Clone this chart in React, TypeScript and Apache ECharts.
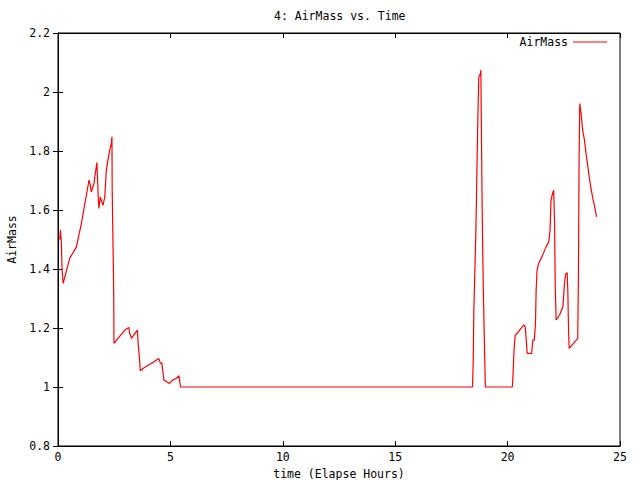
import React, { useEffect, useRef } from "react";
import * as echarts from "echarts";

const titleText = "4: AirMass vs. Time";
const xAxisName = "time (Elapse Hours)";
const yAxisName = "AirMass";
const seriesName = "AirMass";

const hours: number[] = [
  0.08, 0.11, 0.15, 0.18, 0.23, 0.52, 0.82, 1.04, 1.26, 1.38, 1.44, 1.48, 1.6, 1.66, 1.73, 1.75,
  1.79, 1.82, 1.88, 2.0, 2.08, 2.15, 2.22, 2.3, 2.37, 2.4, 2.41, 2.48, 2.49,
  2.97, 3.15, 3.19, 3.27, 3.53, 3.56, 3.63, 3.66, 3.86, 4.15, 4.48, 4.56, 4.62, 4.71, 4.96, 5.11,
  5.26, 5.38, 5.45,
  18.44, 18.47, 18.5, 18.55, 18.59, 18.63, 18.68, 18.72, 18.79, 18.81, 18.83, 18.87, 18.92, 18.98, 19.01,
  20.21, 20.24, 20.29, 20.34, 20.45, 20.71, 20.78, 20.82, 20.87, 21.07, 21.12, 21.19, 21.24, 21.27,
  21.31, 21.38, 21.56, 21.71, 21.83, 21.89, 21.93, 21.98, 22.02, 22.05, 22.09, 22.12, 22.16, 22.31,
  22.46, 22.53, 22.58, 22.65, 22.68, 22.71, 22.74, 23.12, 23.15, 23.18, 23.21, 23.27, 23.34,
  23.42, 23.49, 23.56, 23.64, 23.71, 23.78, 23.86, 23.96,
];

const airMass: number[] = [
  1.5, 1.532, 1.487, 1.398, 1.351, 1.436, 1.475, 1.554, 1.65, 1.701, 1.684, 1.661, 1.69, 1.724, 1.761, 1.724,
  1.644, 1.605, 1.644, 1.616, 1.644, 1.735, 1.769, 1.803, 1.825, 1.848, 1.673, 1.317, 1.148,
  1.193, 1.202, 1.182, 1.165, 1.193, 1.153, 1.091, 1.055, 1.067, 1.08, 1.097, 1.08, 1.081, 1.024, 1.012, 1.024,
  1.029, 1.038, 1.0,
  1.0, 1.091, 1.266, 1.413, 1.532, 1.707, 1.927, 2.051, 2.062, 2.074, 1.915, 1.594, 1.328, 1.108, 1.0,
  1.0, 1.04, 1.131, 1.176, 1.184, 1.21, 1.205, 1.17, 1.114, 1.114, 1.159, 1.159, 1.216, 1.328,
  1.396, 1.419, 1.447, 1.475, 1.492, 1.532, 1.633, 1.65, 1.661, 1.667, 1.554, 1.334, 1.227, 1.244,
  1.272, 1.351, 1.382, 1.388, 1.323, 1.193, 1.131, 1.165, 1.368, 1.763, 1.961, 1.927, 1.87,
  1.837, 1.791, 1.752, 1.707, 1.673, 1.644, 1.616, 1.577,
];

const xMin = 0, xMax = 25, xStep = 5;
const yMin = 0.8, yMax = 2.2, yStep = 0.2;

const FONT = "DejaVu Sans Mono";
const FS = 11.5;

export default function App() {
  const ref = useRef<HTMLDivElement>(null);
  useEffect(() => {
    document.body.style.margin = "0";
    if (!ref.current) return;
    const chart = echarts.init(ref.current, undefined, { renderer: "svg" });
    const data = hours.map((h, i) => [h, airMass[i]]);
    const axisLine = { show: true, lineStyle: { color: "#000", width: 1 } };
    const tick = { show: true, inside: true, length: 5, lineStyle: { color: "#000", width: 1 } };
    const labelStyle = { color: "#000", fontFamily: FONT, fontSize: FS };
    const fmtY = (v: number) => String(parseFloat(v.toFixed(1)));
    chart.setOption({
      animation: false,
      backgroundColor: "#fff",
      textStyle: { fontFamily: FONT },
      title: {
        text: titleText,
        left: 274,
        top: 10,
        padding: 0,
        textStyle: { color: "#000", fontFamily: FONT, fontSize: FS, fontWeight: "normal" },
      },
      legend: {
        data: [seriesName],
        right: 33,
        top: 36,
        padding: 0,
        align: "right",
        icon: "rect",
        itemWidth: 34,
        itemHeight: 1,
        itemGap: 8,
        textStyle: { color: "#000", fontFamily: FONT, fontSize: FS, padding: [0, 0, 0, 0] },
      },
      grid: {
        left: 58,
        right: 20,
        top: 33,
        bottom: 34,
        containLabel: false,
        outerBoundsMode: "none",
        show: true,
        borderColor: "#000",
        borderWidth: 1,
        backgroundColor: "transparent",
      },
      xAxis: [
        {
          type: "value",
          min: xMin,
          max: xMax,
          interval: xStep,
          position: "bottom",
          name: xAxisName,
          nameLocation: "middle",
          nameGap: 20,
          nameTextStyle: { color: "#000", fontFamily: FONT, fontSize: FS },
          axisLine,
          axisTick: tick,
          axisLabel: { ...labelStyle, margin: 5 },
          splitLine: { show: false },
        },
        {
          type: "value",
          min: xMin,
          max: xMax,
          interval: xStep,
          position: "top",
          axisLine,
          axisTick: tick,
          axisLabel: { show: false },
          splitLine: { show: false },
        },
      ],
      yAxis: [
        {
          type: "value",
          min: yMin,
          max: yMax,
          interval: yStep,
          position: "left",
          name: yAxisName,
          nameLocation: "middle",
          nameRotate: 90,
          nameGap: 40,
          nameTextStyle: { color: "#000", fontFamily: FONT, fontSize: FS },
          axisLine,
          axisTick: tick,
          axisLabel: { ...labelStyle, margin: 8, formatter: fmtY },
          splitLine: { show: false },
        },
        {
          type: "value",
          min: yMin,
          max: yMax,
          interval: yStep,
          position: "right",
          axisLine,
          axisTick: tick,
          axisLabel: { show: false },
          splitLine: { show: false },
        },
      ],
      series: [
        {
          name: seriesName,
          type: "line",
          data,
          showSymbol: false,
          symbol: "none",
          color: "#ff0000",
          lineStyle: { color: "#ff0000", width: 1.2 },
          xAxisIndex: 0,
          yAxisIndex: 0,
        },
      ],
    });
    return () => chart.dispose();
  }, []);
  return <div ref={ref} style={{ width: 640, height: 480 }} />;
}
